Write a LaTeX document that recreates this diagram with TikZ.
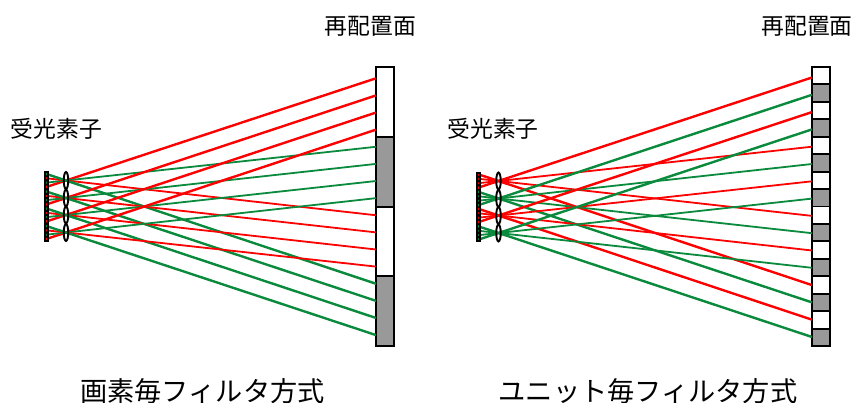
\documentclass[tikz,border=0pt]{standalone}
\usepackage{fontspec}
\setmainfont{Noto Sans CJK JP}
\usepackage{xcolor}
\definecolor{rayr}{HTML}{FF0000}
\definecolor{rayg}{HTML}{0A8A3C}
\definecolor{cellg}{HTML}{999999}
\usetikzlibrary{calc,shapes.geometric}
\tikzset{
  sensorbox/.style={draw=black,line width=2pt,minimum width=3pt,minimum height=68.5pt,inner sep=0pt},
  lensbox/.style={ellipse,draw=black,line width=1.9pt,minimum width=4.5pt,minimum height=17pt,inner sep=0pt},
  wcell/.style={draw=black,fill=white,line width=1.9pt,inner sep=0pt,minimum width=18pt},
  gcell/.style={wcell,fill=cellg},
  lab/.style={font=\fontsize{22.8}{27}\selectfont,inner sep=0pt},
  ttl/.style={font=\fontsize{27.2}{32}\selectfont,inner sep=0pt},
  ray/.style={line width=1.8pt},
  rayo/.style={line width=2.4pt},
}
\begin{document}
\begin{tikzpicture}[x=1pt,y=-1pt]
\useasboundingbox (0,0) rectangle (855,403);
% Left: one filter per pixel
\node[sensorbox,fill=black] (sensorbaseA) at (46.5,206.5) {};
\foreach \k/\y in {1/180.5,2/198,3/215,4/232.5} \coordinate (lensA\k) at (66,\y);
% Four tall cells on the left plane
\foreach \c/\st in {0/wcell,1/gcell,2/wcell,3/gcell}
  \node[\st,minimum height=69.75pt] (cellA\c) at (385,{102+69.75*\c}) {};
\foreach \i in {0,...,15} \coordinate (hitA\i) at (376,{78.3+17.12*\i});
\foreach \k in {1,...,4} {
  \foreach \j in {0,...,3} {
    \pgfmathtruncatemacro{\n}{\k-1+4*\j}
    \pgfmathsetmacro{\rc}{mod(\j,2)==0 ? "rayr" : "rayg"}
    \pgfmathsetmacro{\rw}{(\j==0 || \j==3) ? "rayo" : "ray"}
    \coordinate (pixA\n) at ($(lensA\k)!-0.0645!(hitA\n)$);
    \draw[\rw,\rc] (pixA\n) -- (hitA\n);
  }
}
\node[sensorbox] (sensorA) at (46.5,206.5) {};
\foreach \k/\y in {1/180.5,2/198,3/215,4/232.5} \node[lensbox] (lensnodeA\k) at (66,\y) {};
% Right: one filter per unit
\node[sensorbox,fill=black] (sensorbaseB) at (478,207) {};
\foreach \k/\y in {1/181,2/198.5,3/215.5,4/233} \coordinate (lensB\k) at (498.5,\y);
% Sixteen small cells on the right plane
\foreach \c in {0,...,15} {
  \pgfmathsetmacro{\st}{mod(\c,2)==0 ? "wcell" : "gcell"}
  \node[\st,minimum height=17.44pt] (cellB\c) at (821,{75.7+17.44*\c}) {};
}
\foreach \i in {0,...,15} \coordinate (hitB\i) at (812,{77.5+17.3*\i});
\foreach \k in {1,...,4} {
  \foreach \j in {0,...,3} {
    \pgfmathtruncatemacro{\n}{\k-1+4*\j}
    \pgfmathsetmacro{\rc}{mod(\k,2)==1 ? "rayr" : "rayg"}
    \pgfmathsetmacro{\rw}{(\j==0 || \j==3) ? "rayo" : "ray"}
    \coordinate (pixB\n) at ($(lensB\k)!-0.0655!(hitB\n)$);
    \draw[\rw,\rc] (pixB\n) -- (hitB\n);
  }
}
\node[sensorbox] (sensorB) at (478,207) {};
\foreach \k/\y in {1/181,2/198.5,3/215.5,4/233} \node[lensbox] (lensnodeB\k) at (498.5,\y) {};
% Labels
\node[lab] (planeA) at (370.5,26) {再配置面};
\node[lab] (planeB) at (807,26) {再配置面};
\node[lab] (recvA) at (56.5,129) {受光素子};
\node[lab] (recvB) at (493,129) {受光素子};
\node[ttl] (titleA) at (202.5,391) {画素毎フィルタ方式};
\node[ttl] (titleB) at (648,391) {ユニット毎フィルタ方式};
\end{tikzpicture}
\end{document}
